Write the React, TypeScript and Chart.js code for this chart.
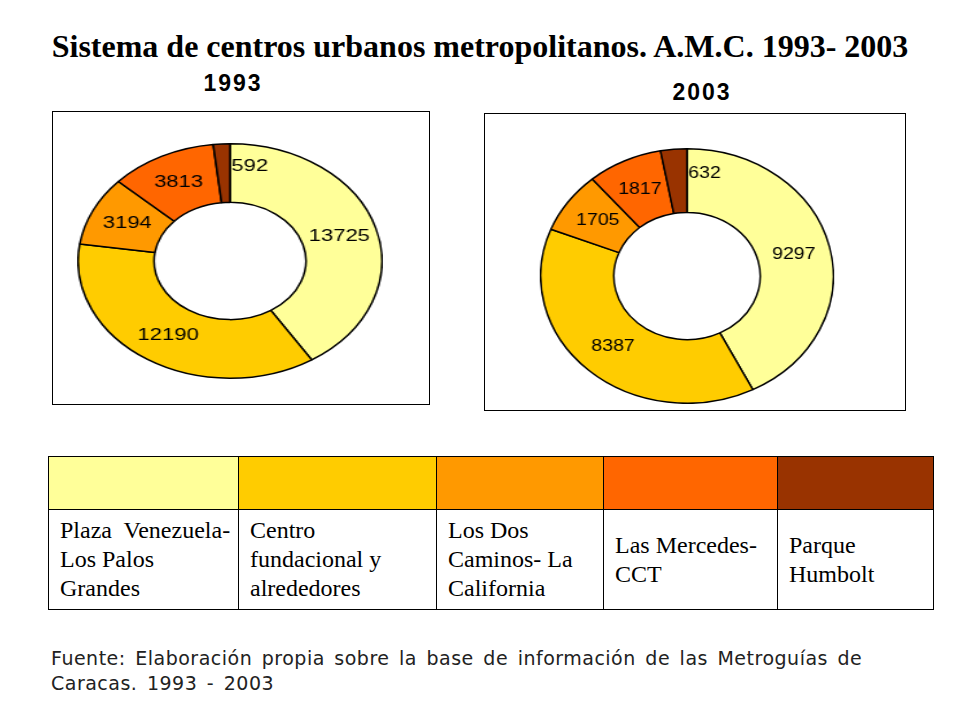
import React, { useEffect, useRef } from "react";
import { Chart, registerables } from "chart.js";

Chart.register(...registerables);

const titleText = "Sistema de centros urbanos metropolitanos. A.M.C. 1993- 2003";
const yearLabels = ["1993", "2003"];
const categories = [
  "Plaza  Venezuela-\nLos Palos\nGrandes",
  "Centro\nfundacional y\nalrededores",
  "Los Dos\nCaminos- La\nCalifornia",
  "Las Mercedes-\nCCT",
  "Parque\nHumbolt",
];
const colors = ["#FFFF99", "#FFCC00", "#FF9900", "#FF6600", "#993300"];
const values1993 = [13725, 12190, 3194, 3813, 592];
const values2003 = [9297, 8387, 1705, 1817, 632];
const sourceText =
  "Fuente: Elaboración propia sobre la base de información de las Metroguías de\nCaracas. 1993 - 2003";

const labelPlugin = {
  id: "sliceLabels",
  afterDatasetsDraw(chart: any) {
    const ctx = chart.ctx;
    const meta = chart.getDatasetMeta(0);
    const data: number[] = chart.data.datasets[0].data;
    const total = data.reduce((a, b) => a + b, 0);
    ctx.save();
    ctx.font = "17px 'Liberation Sans', Arial, sans-serif";
    ctx.fillStyle = "#000";
    ctx.textBaseline = "middle";
    meta.data.forEach((arc: any, i: number) => {
      const v = data[i];
      const p = arc.getProps(["x", "y", "startAngle", "endAngle", "innerRadius", "outerRadius"], true);
      if (v / total < 0.05) {
        const r = p.innerRadius + 0.62 * (p.outerRadius - p.innerRadius);
        const a = p.endAngle;
        ctx.textAlign = "left";
        ctx.fillText(String(v), p.x + Math.cos(a) * r + 1, p.y + Math.sin(a) * r);
      } else {
        const pos = arc.tooltipPosition(true);
        ctx.textAlign = "center";
        ctx.fillText(String(v), pos.x, pos.y);
      }
    });
    ctx.restore();
  },
};

function Donut(props: { values: number[]; size: number; scaleX: number; left: number; top: number }) {
  const ref = useRef<HTMLCanvasElement | null>(null);
  useEffect(() => {
    const chart = new Chart(ref.current as HTMLCanvasElement, {
      type: "doughnut",
      data: {
        labels: categories,
        datasets: [
          {
            data: props.values,
            backgroundColor: colors,
            borderColor: "#000",
            borderWidth: 1.5,
          },
        ],
      },
      options: {
        responsive: false,
        animation: false,
        cutout: "50%",
        events: [],
        layout: { padding: 0 },
        plugins: { legend: { display: false }, tooltip: { enabled: false } },
      },
      plugins: [labelPlugin],
    } as any);
    return () => chart.destroy();
  }, []);
  return (
    <canvas
      ref={ref}
      width={props.size}
      height={props.size}
      style={{
        position: "absolute",
        left: props.left,
        top: props.top,
        width: props.size,
        height: props.size,
        transform: `scaleX(${props.scaleX})`,
        transformOrigin: "center center",
      }}
    />
  );
}

const colEdges = [48, 238, 436, 603, 777, 934];

export default function App() {
  return (
    <div
      style={{
        position: "absolute",
        left: 0,
        top: 0,
        width: 960,
        height: 720,
        background: "#fff",
        overflow: "hidden",
      }}
    >
      <div
        style={{
          position: "absolute",
          left: 0,
          top: 30,
          width: 960,
          textAlign: "center",
          font: "bold 32px/32px 'Liberation Serif', 'Times New Roman', serif",
          color: "#000",
          whiteSpace: "nowrap",
        }}
      >
        {titleText}
      </div>
      <div
        style={{
          position: "absolute",
          left: 133,
          top: 72,
          width: 200,
          textAlign: "center",
          font: "bold 23px/23px 'Liberation Sans', Arial, sans-serif",
          letterSpacing: 2,
        }}
      >
        {yearLabels[0]}
      </div>
      <div
        style={{
          position: "absolute",
          left: 602,
          top: 81,
          width: 200,
          textAlign: "center",
          font: "bold 23px/23px 'Liberation Sans', Arial, sans-serif",
          letterSpacing: 2,
        }}
      >
        {yearLabels[1]}
      </div>
      <div
        style={{
          position: "absolute",
          left: 52,
          top: 111,
          width: 376,
          height: 292,
          border: "1px solid #000",
        }}
      />
      <div
        style={{
          position: "absolute",
          left: 484,
          top: 113,
          width: 420,
          height: 296,
          border: "1px solid #000",
        }}
      />
      <Donut values={values1993} size={236} scaleX={1.295} left={112} top={143} />
      <Donut values={values2003} size={256} scaleX={1.15} left={559} top={148} />

      {categories.map((c, i) => (
        <React.Fragment key={i}>
          <div
            style={{
              position: "absolute",
              left: colEdges[i],
              top: 456,
              width: colEdges[i + 1] - colEdges[i],
              height: 54,
              background: colors[i],
              boxSizing: "border-box",
              borderTop: "1px solid #000",
              borderLeft: "1px solid #000",
              borderRight: i === categories.length - 1 ? "1px solid #000" : undefined,
              borderBottom: "1px solid #000",
            }}
          />
          <div
            style={{
              position: "absolute",
              left: colEdges[i],
              top: 510,
              width: colEdges[i + 1] - colEdges[i],
              height: 100,
              boxSizing: "border-box",
              borderLeft: "1px solid #000",
              borderRight: i === categories.length - 1 ? "1px solid #000" : undefined,
              borderBottom: "1px solid #000",
              display: "flex",
              alignItems: "center",
              paddingLeft: 11,
              font: "24px/29px 'Liberation Serif', 'Times New Roman', serif",
              whiteSpace: "pre",
              color: "#000",
            }}
          >
            {c}
          </div>
        </React.Fragment>
      ))}

      <div
        style={{
          position: "absolute",
          left: 51,
          top: 646,
          width: 900,
          font: "19px/25px 'DejaVu Sans', sans-serif",
          letterSpacing: 0.5,
          wordSpacing: 3,
          whiteSpace: "pre",
          color: "#222",
        }}
      >
        {sourceText}
      </div>
    </div>
  );
}
